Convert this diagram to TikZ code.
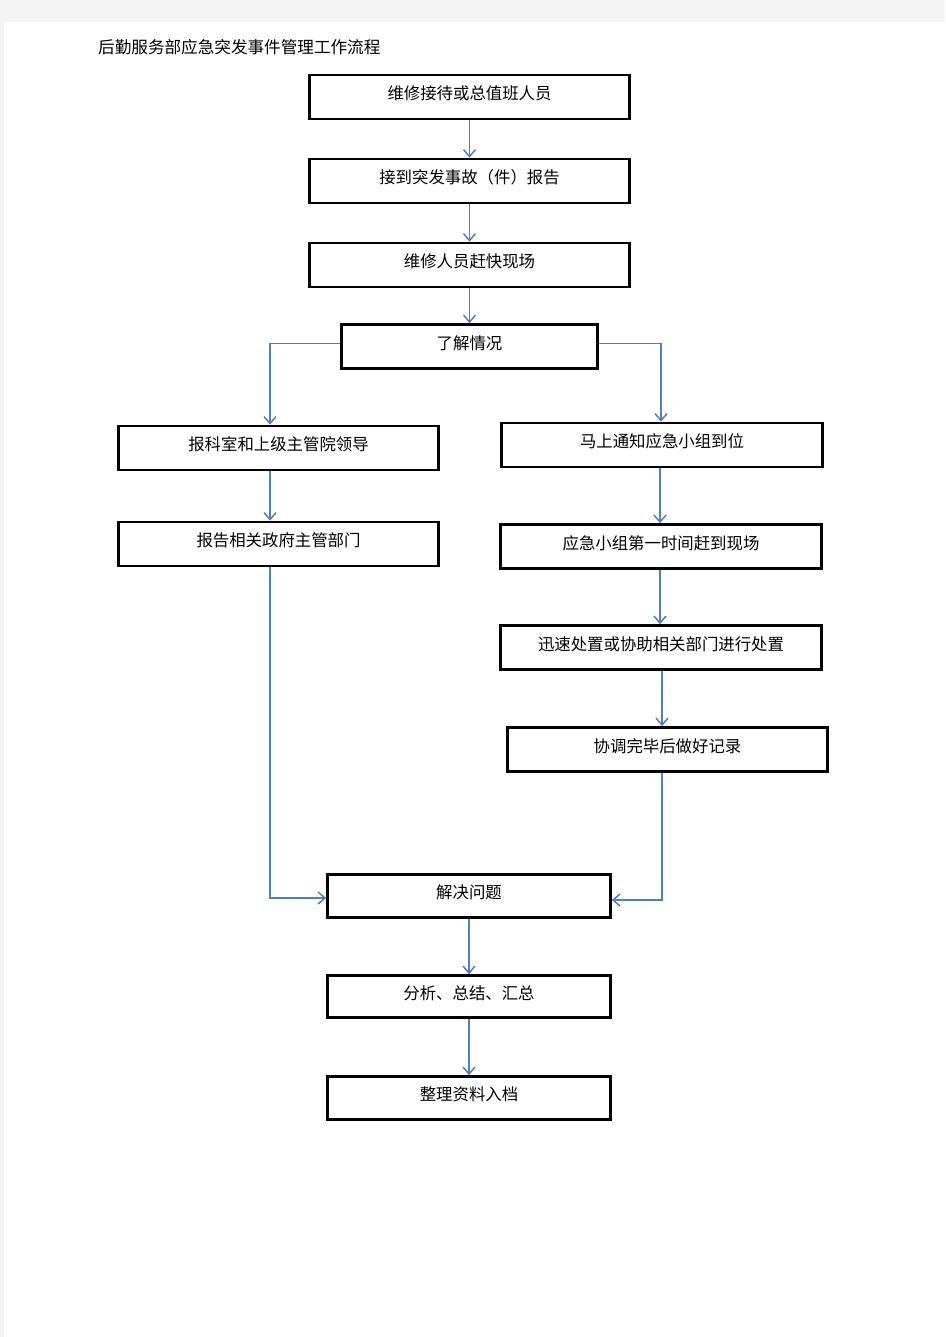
\documentclass[tikz,border=0pt]{standalone}
\usepackage{fontspec}
\newfontfamily\cjk{Noto Sans CJK SC}
\usetikzlibrary{arrows.meta}
\definecolor{flowblue}{RGB}{79,129,189}
\definecolor{pagegray}{RGB}{244,244,244}
\begin{document}
\begin{tikzpicture}[x=1pt,y=-1pt,
    box/.style={draw=black,line width=2.6pt,inner sep=0pt,minimum height=44pt,
        text height=14.5pt,text depth=9pt,
        font=\cjk\fontsize{16.4}{19}\selectfont},
    flow/.style={draw=flowblue,line width=1.5pt,-{Straight Barb[length=7pt,width=12pt]}}]

    % --- Page and Margins ---
    \useasboundingbox (0,0) rectangle (945,1337);
    \fill[pagegray] (0,0) rectangle (945,1337);
    \fill[white] (4,22) rectangle (945,1337);

    % --- Title ---
    \node[anchor=west,inner sep=0pt,font=\cjk\fontsize{16.6}{19}\selectfont] (title) at (98,47)
        {后勤服务部应急突发事件管理工作流程};

    % --- Main Column ---
    \node[box,minimum width=320pt] (staff)  at (469.5,97)  {维修接待或总值班人员};
    \node[box,minimum width=320pt] (report) at (469.5,181) {接到突发事故（件）报告};
    \node[box,minimum width=320pt] (rush)   at (469.5,265) {维修人员赶快现场};
    \node[box,minimum width=256pt] (learn)  at (469.5,346.5) {了解情况};

    % --- Left Branch ---
    \node[box,minimum width=320pt] (leader) at (278.5,448) {报科室和上级主管院领导};
    \node[box,minimum width=320pt] (gov)    at (278.5,544) {报告相关政府主管部门};

    % --- Right Branch ---
    \node[box,minimum width=321pt] (notify) at (662,445)   {马上通知应急小组到位};
    \node[box,minimum width=321pt] (arrive) at (661,546.5) {应急小组第一时间赶到现场};
    \node[box,minimum width=321pt] (handle) at (661,647.5) {迅速处置或协助相关部门进行处置};
    \node[box,minimum width=320pt] (record) at (667.5,749.5) {协调完毕后做好记录};

    % --- Bottom Column ---
    \node[box,minimum width=283pt,minimum height=43pt] (solve)   at (469,896)    {解决问题};
    \node[box,minimum width=283pt,minimum height=42pt] (analyse) at (469,996.5)  {分析、总结、汇总};
    \node[box,minimum width=283pt,minimum height=43pt] (archive) at (469,1098)   {整理资料入档};

    % --- Arrows ---
    \draw[flow] (staff) -- (report);
    \draw[flow] (report) -- (rush);
    \draw[flow] (rush) -- (learn);

    % split to both branches
    \draw[flow] ([yshift=3pt]learn.west) -| ([xshift=-8.5pt]leader.north);
    \draw[flow] ([yshift=3pt]learn.east) -| ([xshift=-1pt]notify.north);

    \draw[flow] ([xshift=-8.5pt]leader.south) -- ([xshift=-8.5pt]gov.north);
    \draw[flow] ([xshift=-2pt]notify.south) -- ([xshift=-1pt]arrive.north);
    \draw[flow] ([xshift=-1pt]arrive.south) -- ([xshift=-1pt]arrive.south |- handle.north);
    \draw[flow] ([xshift=1pt]handle.south) -- ([xshift=1pt]handle.south |- record.north);

    % join again
    \draw[flow] ([xshift=-8.5pt]gov.south) |- ([yshift=-2pt]solve.west);
    \draw[flow] ([xshift=-5.5pt]record.south) |- ([yshift=-4pt]solve.east);

    \draw[flow] (solve) -- (analyse);
    \draw[flow] (analyse) -- (archive);

\end{tikzpicture}
\end{document}
